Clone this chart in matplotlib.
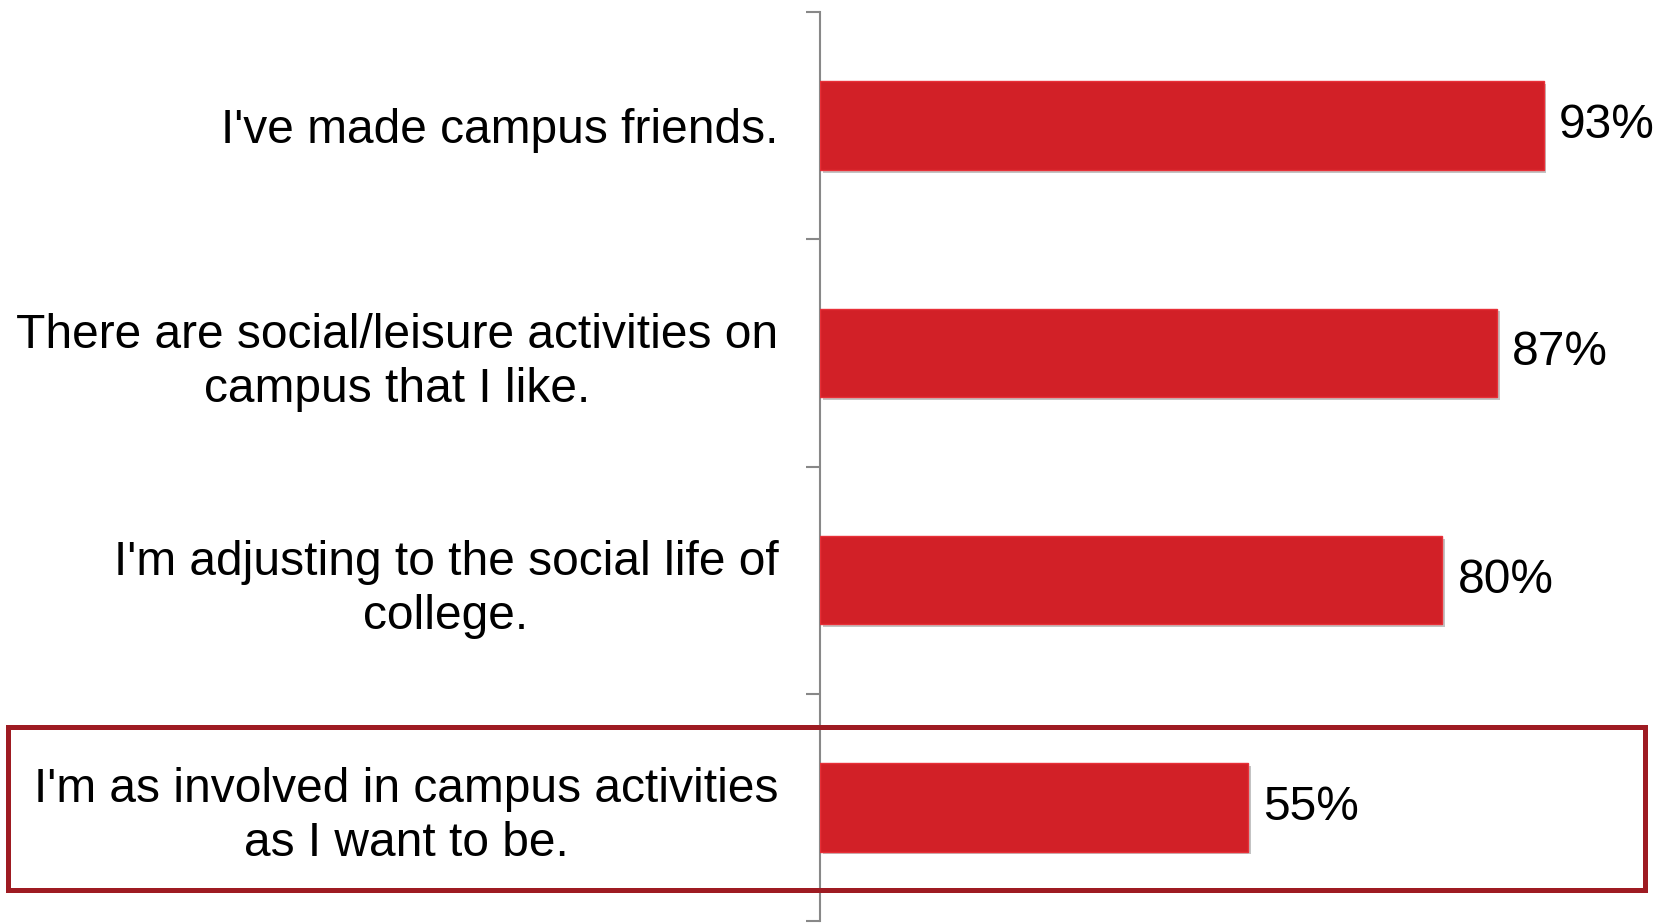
import matplotlib
matplotlib.use("Agg")
import matplotlib.pyplot as plt
from matplotlib.patches import Rectangle
from matplotlib import patheffects as pe

categories = [
    "I've made campus friends.",
    "There are social/leisure activities on\ncampus that I like.",
    "I'm adjusting to the social life of\ncollege.",
    "I'm as involved in campus activities\nas I want to be.",
]
values = [0.93, 0.87, 0.80, 0.55]
value_labels = ["93%", "87%", "80%", "55%"]

plt.rcParams['font.family'] = ['Liberation Sans', 'DejaVu Sans']

W, H = 1664, 924
fig = plt.figure(figsize=(W / 100, H / 100), dpi=100)
ax = fig.add_axes([820 / W, 3 / H, 778 / W, 909 / H])

ypos = list(range(len(categories)))
bars = ax.barh(ypos, values, height=0.39, color='#D22027', edgecolor='#E83038',
               linewidth=1.0, zorder=3)
for b in bars:
    b.set_path_effects([pe.SimplePatchShadow(offset=(2, -2), shadow_rgbFace='#888888', alpha=0.5),
                        pe.Normal()])

ax.set_xlim(0, 1.0)
ax.set_ylim(len(categories) - 0.5, -0.5)

for y, v, lab in zip(ypos, values, value_labels):
    ax.annotate(lab, xy=(v, y), xytext=(11, 0), textcoords='offset points',
                va='center', ha='left', fontsize=34.5, color='black')

ax.set_yticks(ypos)
ax.set_yticklabels(categories, fontsize=34.5, multialignment='center', linespacing=1.25)
ax.tick_params(axis='y', which='major', length=0, pad=30)
ax.set_yticks([i - 0.5 for i in range(len(categories) + 1)], minor=True)
ax.tick_params(axis='y', which='minor', length=10, width=1.5, color='#888888', direction='out')
ax.set_xticks([])

for s in ['top', 'right', 'bottom']:
    ax.spines[s].set_visible(False)
ax.spines['left'].set_color('#888888')
ax.spines['left'].set_linewidth(1.5)
ax.patch.set_alpha(0)

box = Rectangle((8 / W, (H - 890) / H), 1637 / W, 163 / H, transform=fig.transFigure,
                fill=False, edgecolor='#9E1B22', linewidth=3.6, zorder=10)
fig.patches.append(box)

fig.savefig('out.png', dpi=100)
